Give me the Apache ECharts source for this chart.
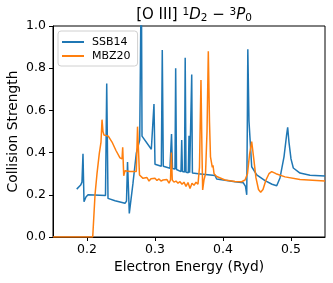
<!DOCTYPE html>
<html><head><meta charset="utf-8">
<script src="https://cdn.jsdelivr.net/npm/echarts@6/dist/echarts.min.js"></script>
<style>html,body{margin:0;padding:0;background:#fff}#c{width:333px;height:283px}</style>
</head><body><div id="c"></div>
<script>
const xTicks = [0.2, 0.3, 0.4, 0.5];
const yTicks = [0, 0.2, 0.4, 0.6, 0.8, 1.0];
const seriesNames = ['SSB14', 'MBZ20'];

const ssbX = [0.1849,0.1907,0.1926,0.1941,0.1956,0.1985,0.2015,0.2272,0.2290,0.2309,0.2412,0.2559,0.2581,0.2596,0.2622,0.2676,0.2725,0.2775,0.2799,0.2809,0.2946,0.2975,0.2985,0.3000,0.3093,0.3107,0.3122,0.3220,0.3243,0.3257,0.3294,0.3304,0.3316,0.3382,0.3393,0.3403,0.3434,0.3444,0.3456,0.3490,0.3500,0.3510,0.3529,0.3540,0.3550,0.3637,0.3882,0.3907,0.4176,0.4299,0.4331,0.4349,0.4357,0.4365,0.4382,0.4422,0.4496,0.4618,0.4721,0.4790,0.4838,0.4897,0.4934,0.4951,0.4970,0.5000,0.5034,0.5132,0.5280,0.5500];
const ssbY = [0.227,0.246,0.260,0.395,0.167,0.190,0.200,0.197,0.728,0.183,0.172,0.160,0.170,0.355,0.112,0.254,0.397,0.460,1.300,0.478,0.416,0.420,0.630,0.345,0.335,0.886,0.335,0.326,0.488,0.325,0.322,0.800,0.320,0.310,0.460,0.310,0.308,0.850,0.307,0.305,0.480,0.304,0.303,0.770,0.303,0.300,0.292,0.275,0.262,0.257,0.240,0.200,0.500,0.890,0.550,0.333,0.294,0.267,0.250,0.243,0.280,0.380,0.480,0.520,0.450,0.370,0.327,0.303,0.293,0.289];

const mbzX = [0.1500,0.2084,0.2118,0.2147,0.2181,0.2206,0.2221,0.2235,0.2250,0.2313,0.2368,0.2426,0.2485,0.2515,0.2525,0.2540,0.2559,0.2632,0.2725,0.2743,0.2772,0.2824,0.2853,0.2882,0.2912,0.2941,0.2970,0.3000,0.3029,0.3059,0.3088,0.3118,0.3147,0.3176,0.3206,0.3228,0.3240,0.3254,0.3279,0.3309,0.3338,0.3368,0.3397,0.3426,0.3456,0.3485,0.3515,0.3544,0.3574,0.3603,0.3632,0.3654,0.3676,0.3691,0.3701,0.3720,0.3743,0.3765,0.3784,0.3801,0.3816,0.3843,0.3853,0.3868,0.3907,0.4029,0.4176,0.4275,0.4324,0.4360,0.4390,0.4422,0.4449,0.4485,0.4522,0.4554,0.4588,0.4632,0.4676,0.4716,0.4779,0.4912,0.5132,0.5500];
const mbzY = [0,0,0.200,0.300,0.396,0.450,0.556,0.500,0.483,0.478,0.450,0.410,0.375,0.370,0.425,0.290,0.314,0.310,0.310,0.523,0.294,0.278,0.270,0.282,0.265,0.276,0.270,0.278,0.268,0.275,0.265,0.270,0.262,0.272,0.255,0.270,0.400,0.270,0.260,0.265,0.255,0.262,0.250,0.260,0.240,0.258,0.230,0.255,0.245,0.260,0.250,0.330,0.744,0.400,0.223,0.270,0.300,0.500,0.880,0.550,0.380,0.330,0.340,0.300,0.287,0.270,0.263,0.262,0.270,0.300,0.390,0.452,0.380,0.280,0.225,0.212,0.225,0.270,0.300,0.310,0.300,0.285,0.273,0.265];

const zip = (xs, ys) => xs.map((x, i) => [x, ys[i]]);
const FONT = 'DejaVu Sans';
const chart = echarts.init(document.getElementById('c'), null, {renderer: 'canvas'});
chart.setOption({
  animation: false,
  backgroundColor: '#fff',
  title: {
    text: '[O III] {sup|1}{it|D}{sub|2} − {sup|3}{it|P}{sub|0}',
    left: 189, top: 2, textAlign: 'center',
    textStyle: {
      fontFamily: FONT, fontSize: 15, fontWeight: 'normal', color: '#000',
      rich: {
        sup: {fontFamily: FONT, fontSize: 10.5, color: '#000', verticalAlign: 'top', padding: [0,0,6,0]},
        sub: {fontFamily: FONT, fontSize: 10.5, color: '#000', verticalAlign: 'bottom', padding: [4,0,0,0]},
        it: {fontFamily: FONT, fontSize: 15, fontStyle: 'italic', color: '#000'}
      }
    }
  },
  legend: {
    orient: 'vertical', left: 58, top: 31,
    padding: [5, 7, 4, 4], itemGap: 2,
    backgroundColor: '#fff', borderColor: '#d0d0d0', borderWidth: 1, borderRadius: 3,
    itemWidth: 22, itemHeight: 2,
    icon: 'path://M0,0L22,0L22,2L0,2Z',
    textStyle: {fontFamily: FONT, fontSize: 11, color: '#000', padding: [0,0,0,3], lineHeight: 12},
    data: seriesNames
  },
  grid: {left: 53, right: 8, top: 26, bottom: 46, outerBoundsMode: 'none', containLabel: false,
         show: true, borderColor: '#000', borderWidth: 1, backgroundColor: 'transparent'},
  xAxis: {
    type: 'value', min: 0.15, max: 0.55,
    name: 'Electron Energy (Ryd)', nameLocation: 'middle', nameGap: 23, nameMoveOverlap: false,
    nameTextStyle: {fontFamily: FONT, fontSize: 13.8, color: '#000'},
    axisLine: {show: true, lineStyle: {color: '#000', width: 1}},
    axisTick: {show: true, length: 4, inside: false, lineStyle: {color: '#000'}, customValues: xTicks},
    axisLabel: {fontFamily: FONT, fontSize: 12.5, color: '#000', margin: 6, customValues: xTicks, formatter: v => v.toFixed(1)},
    splitLine: {show: false}
  },
  yAxis: {
    type: 'value', min: 0, max: 1, interval: 0.2,
    name: 'Collision Strength', nameLocation: 'middle', nameGap: 33, nameRotate: 90, nameMoveOverlap: false,
    nameTextStyle: {fontFamily: FONT, fontSize: 13.8, color: '#000'},
    axisLine: {show: true, lineStyle: {color: '#000', width: 1}},
    axisTick: {show: true, length: 4, inside: false, lineStyle: {color: '#000'}, customValues: yTicks},
    axisLabel: {fontFamily: FONT, fontSize: 12.5, color: '#000', margin: 7, customValues: yTicks, formatter: v => v.toFixed(1)},
    splitLine: {show: false}
  },
  series: [
    {name: seriesNames[0], type: 'line', data: zip(ssbX, ssbY), showSymbol: false, symbol: 'none', clip: true,
     lineStyle: {color: '#1f77b4', width: 1.5}, itemStyle: {color: '#1f77b4'}, z: 2},
    {name: seriesNames[1], type: 'line', data: zip(mbzX, mbzY), showSymbol: false, symbol: 'none', clip: true,
     lineStyle: {color: '#ff7f0e', width: 1.5}, itemStyle: {color: '#ff7f0e'}, z: 3}
  ]
});
</script></body></html>
